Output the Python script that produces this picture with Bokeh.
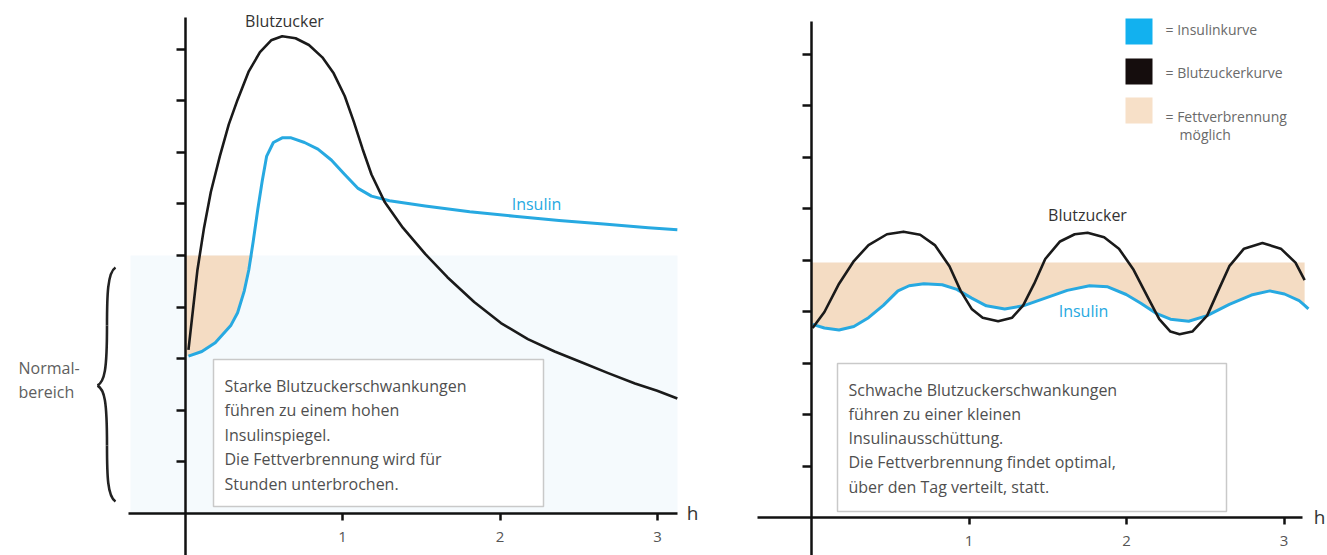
import numpy as np
from bokeh.plotting import figure
from bokeh.layouts import row
from bokeh.models import LinearAxis, FixedTicker, Range1d
from bokeh.core.properties import value
from bokeh.embed import file_html
from bokeh.resources import INLINE

# ---------------- data ----------------
hour_ticks = [1, 2, 3]
level_ticks = [1, 2, 3, 4, 5, 6, 7, 8, 9]
fat_burn_limit = 5.0

# left panel: strong fluctuations
left_bz_h = [0.022, 0.051, 0.079, 0.121, 0.164, 0.221, 0.278, 0.334, 0.405, 0.476, 0.547, 0.617,
             0.702, 0.787, 0.872, 0.944, 1.014, 1.071, 1.128, 1.184, 1.269, 1.383, 1.525, 1.666,
             1.836, 2.006, 2.177, 2.347, 2.517, 2.687, 2.857, 2.998, 3.126]
left_bz_v = [3.17, 3.96, 4.72, 5.54, 6.23, 6.92, 7.54, 8.02, 8.57, 8.94, 9.17, 9.25,
             9.21, 9.08, 8.84, 8.53, 8.09, 7.60, 7.06, 6.57, 6.03, 5.54, 5.03, 4.58,
             4.10, 3.69, 3.38, 3.14, 2.93, 2.72, 2.52, 2.38, 2.23]
left_ins_h = [0.022, 0.107, 0.192, 0.292, 0.334, 0.376, 0.405, 0.433, 0.462, 0.490, 0.518, 0.561,
              0.617, 0.674, 0.759, 0.844, 0.929, 1.014, 1.099, 1.184, 1.298, 1.525, 1.808, 2.091,
              2.375, 2.658, 2.942, 3.126]
left_ins_v = [3.05, 3.14, 3.31, 3.65, 3.89, 4.31, 4.72, 5.27, 5.89, 6.44, 6.92, 7.19,
              7.28, 7.28, 7.19, 7.06, 6.85, 6.57, 6.30, 6.15, 6.06, 5.96, 5.85, 5.76,
              5.68, 5.61, 5.54, 5.50]

# right panel: weak fluctuations
right_bz_h = [0.007, 0.082, 0.175, 0.269, 0.362, 0.479, 0.584, 0.690, 0.783, 0.876, 0.947, 1.017,
              1.087, 1.185, 1.274, 1.344, 1.414, 1.484, 1.578, 1.671, 1.753, 1.858, 1.952, 2.045,
              2.138, 2.208, 2.279, 2.337, 2.418, 2.512, 2.582, 2.653, 2.746, 2.863, 2.980, 3.073, 3.131]
right_bz_v = [3.68, 3.99, 4.54, 4.98, 5.29, 5.50, 5.55, 5.49, 5.29, 4.88, 4.40, 4.05,
              3.88, 3.81, 3.88, 4.12, 4.54, 5.02, 5.36, 5.50, 5.53, 5.44, 5.22, 4.81,
              4.26, 3.85, 3.61, 3.56, 3.61, 3.92, 4.40, 4.88, 5.22, 5.33, 5.22, 4.95, 4.61]
right_ins_h = [0.007, 0.082, 0.175, 0.269, 0.362, 0.456, 0.549, 0.620, 0.713, 0.830, 0.923, 1.017,
               1.110, 1.227, 1.344, 1.484, 1.624, 1.765, 1.881, 1.998, 2.091, 2.185, 2.279, 2.395,
               2.512, 2.653, 2.793, 2.910, 3.003, 3.096, 3.131, 3.155]
right_ins_v = [3.75, 3.68, 3.64, 3.71, 3.88, 4.12, 4.40, 4.50, 4.54, 4.52, 4.43, 4.26,
               4.11, 4.05, 4.11, 4.26, 4.41, 4.50, 4.48, 4.33, 4.16, 3.97, 3.85, 3.81,
               3.92, 4.14, 4.32, 4.40, 4.34, 4.21, 4.12, 4.05]

left_box_lines = ["Starke Blutzuckerschwankungen", "führen zu einem hohen", "Insulinspiegel.",
                  "Die Fettverbrennung wird für", "Stunden unterbrochen."]
right_box_lines = ["Schwache Blutzuckerschwankungen", "führen zu einer kleinen", "Insulinausschüttung.",
                   "Die Fettverbrennung findet optimal,", "über den Tag verteilt, statt."]
legend_labels = ["= Insulinkurve", "= Blutzuckerkurve", "= Fettverbrennung"]
legend_extra = "möglich"
curve_labels = ["Blutzucker", "Insulin"]
range_label = ["Normal-", "bereich"]

# ---------------- styles ----------------
FONT = "Open Sans"
BLACK = "#1a1a1a"
BLUE = "#27a9e1"
TAN = "#f4dcc3"
LEG_BLUE = "#12b1ef"
PALE = "#f5fafd"
TEXT = "#4f4f4f"

H = 555
TOP = 0


class Mapper:
    def __init__(self, left_px, width, ox, oy, sx, sy):
        self.ox, self.oy, self.sx, self.sy = ox, oy, sx, sy
        self.xr = ((left_px - ox) / sx, (left_px + width - ox) / sx)
        self.yr = ((oy - (TOP + H)) / sy, (oy - TOP) / sy)

    def x(self, px):
        return (px - self.ox) / self.sx

    def y(self, py):
        return (self.oy - py) / self.sy


def make_fig(m, width, xbounds, ytop_px):
    p = figure(width=width, height=H, x_range=Range1d(*m.xr), y_range=Range1d(*m.yr),
               output_backend="svg", toolbar_location=None, min_border=0,
               x_axis_location=None, y_axis_location=None, outline_line_color=None,
               background_fill_color="white", border_fill_color="white")
    p.grid.visible = False
    xa = LinearAxis(fixed_location=0, ticker=FixedTicker(ticks=hour_ticks), bounds=xbounds,
                    axis_line_width=2.5, axis_line_color="#111111", major_tick_in=0, major_tick_out=7,
                    major_tick_line_width=2.5, major_tick_line_color="#111111",
                    minor_tick_line_color=None, major_label_text_font_size="15px",
                    major_label_text_color="#555555", major_label_standoff=11,
                    major_label_text_font=FONT)
    p.add_layout(xa, "below")
    ya = LinearAxis(fixed_location=0, ticker=FixedTicker(ticks=level_ticks),
                    bounds=(m.yr[0] - 1, m.y(ytop_px)),
                    axis_line_width=2.5, axis_line_color="#111111", major_tick_in=0, major_tick_out=9,
                    major_tick_line_width=2.5, major_tick_line_color="#111111",
                    minor_tick_line_color=None,
                    major_label_overrides={t: "" for t in level_ticks})
    p.add_layout(ya, "left")
    return p


def box_with_text(p, m, x0, y0, x1, y1, lines, tx, ty0, dy):
    p.quad(left=[m.x(x0)], right=[m.x(x1)], top=[m.y(y0)], bottom=[m.y(y1)],
           fill_color="white", line_color="#c9c9c9", line_width=1.5)
    p.text(x=[m.x(tx)] * len(lines), y=[m.y(ty0 + i * dy) for i in range(len(lines))], text=lines,
           text_font=value(FONT), text_font_size="16px", text_color=TEXT,
           text_baseline="middle", text_align="left")


# ---------------- left figure ----------------
WL = 700
mL = Mapper(0, WL, 184.5, 513, 157.5, 51.6)
pL = make_fig(mL, WL, (mL.x(128), mL.x(677)), 17)

# normal range background
pL.quad(left=[mL.x(130)], right=[mL.x(677)], top=[fat_burn_limit], bottom=[0],
        fill_color=PALE, line_color=None)
# fat burning area
lh = np.array(left_ins_h)
lv = np.array(left_ins_v)
sel = lh <= 0.434
xs = np.concatenate([[0.0], lh[sel]])
ys = np.concatenate([[lv[0]], np.minimum(lv[sel], fat_burn_limit)])
pL.varea(x=xs, y1=ys, y2=[fat_burn_limit] * len(xs), fill_color=TAN)

box_with_text(pL, mL, 213, 359, 543, 506, left_box_lines, 224, 385, 24.6)

pL.line(left_ins_h, left_ins_v, line_color=BLUE, line_width=3, line_join="round")
pL.line(left_bz_h, left_bz_v, line_color=BLACK, line_width=2.6, line_join="round")

pL.text(x=[mL.x(284)], y=[mL.y(20)], text=[curve_labels[0]], text_font=value(FONT),
        text_font_size="16px", text_color="#333333", text_align="center", text_baseline="middle")
pL.text(x=[mL.x(536)], y=[mL.y(203)], text=[curve_labels[1]], text_font=value(FONT),
        text_font_size="16px", text_color=BLUE, text_align="center", text_baseline="middle")
pL.text(x=[mL.x(18)] * 2, y=[mL.y(367), mL.y(391)], text=range_label, text_font=value(FONT),
        text_font_size="16px", text_color="#5e5e5e", text_align="left", text_baseline="middle")
pL.text(x=[mL.x(692)], y=[mL.y(512)], text=["h"], text_font=value(FONT),
        text_font_size="19px", text_color="#333333", text_align="center", text_baseline="middle")

# curly brace
bx = [(115, 267, 107, 272, 106.5, 295, 106.5, 325),
      (106.5, 325, 106.5, 370, 104, 381, 97, 385),
      (97, 385, 104, 389, 106.5, 400, 106.5, 445),
      (106.5, 445, 106.5, 475, 107, 496, 115, 501)]
pL.bezier(x0=[mL.x(b[0]) for b in bx], y0=[mL.y(b[1]) for b in bx],
          cx0=[mL.x(b[2]) for b in bx], cy0=[mL.y(b[3]) for b in bx],
          cx1=[mL.x(b[4]) for b in bx], cy1=[mL.y(b[5]) for b in bx],
          x1=[mL.x(b[6]) for b in bx], y1=[mL.y(b[7]) for b in bx],
          line_color="#222222", line_width=2.6)

# ---------------- right figure ----------------
WR = 627
mR = Mapper(700, WR, 811, 517, 157.5, 51.5)
pR = make_fig(mR, WR, (mR.x(757), mR.x(1302)), 21)

rh = np.array(right_ins_h)
rv = np.array(right_ins_v)
sel = rh <= 3.132
xs = np.concatenate([[0.0], rh[sel]])
ys = np.concatenate([[rv[0]], rv[sel]])
pR.varea(x=xs, y1=ys, y2=[fat_burn_limit - 0.05] * len(xs), fill_color=TAN)

box_with_text(pR, mR, 837, 363, 1226, 511, right_box_lines, 848, 389, 24.3)

pR.line(right_ins_h, right_ins_v, line_color=BLUE, line_width=3, line_join="round")
pR.line(right_bz_h, right_bz_v, line_color=BLACK, line_width=2.6, line_join="round")

pR.text(x=[mR.x(1087)], y=[mR.y(214)], text=[curve_labels[0]], text_font=value(FONT),
        text_font_size="16px", text_color="#333333", text_align="center", text_baseline="middle")
pR.text(x=[mR.x(1083)], y=[mR.y(310)], text=[curve_labels[1]], text_font=value(FONT),
        text_font_size="16px", text_color=BLUE, text_align="center", text_baseline="middle")
pR.text(x=[mR.x(1319)], y=[mR.y(516)], text=["h"], text_font=value(FONT),
        text_font_size="19px", text_color="#333333", text_align="center", text_baseline="middle")

# legend
sq_top = [18, 58, 97]
sq_col = [LEG_BLUE, "#150d0d", "#f7e0c8"]
pR.quad(left=[mR.x(1125)] * 3, right=[mR.x(1152)] * 3,
        top=[mR.y(t) for t in sq_top], bottom=[mR.y(t + 26) for t in sq_top],
        fill_color=sq_col, line_color=None)
pR.text(x=[mR.x(1165)] * 3, y=[mR.y(29), mR.y(72), mR.y(116)], text=legend_labels,
        text_font=value(FONT), text_font_size="14px", text_color="#6a6a6a",
        text_align="left", text_baseline="middle")
pR.text(x=[mR.x(1179)], y=[mR.y(134)], text=[legend_extra],
        text_font=value(FONT), text_font_size="14px", text_color="#6a6a6a",
        text_align="left", text_baseline="middle")

layout = row(pL, pR, spacing=0)
open("out.html", "w").write(file_html(layout, INLINE))
